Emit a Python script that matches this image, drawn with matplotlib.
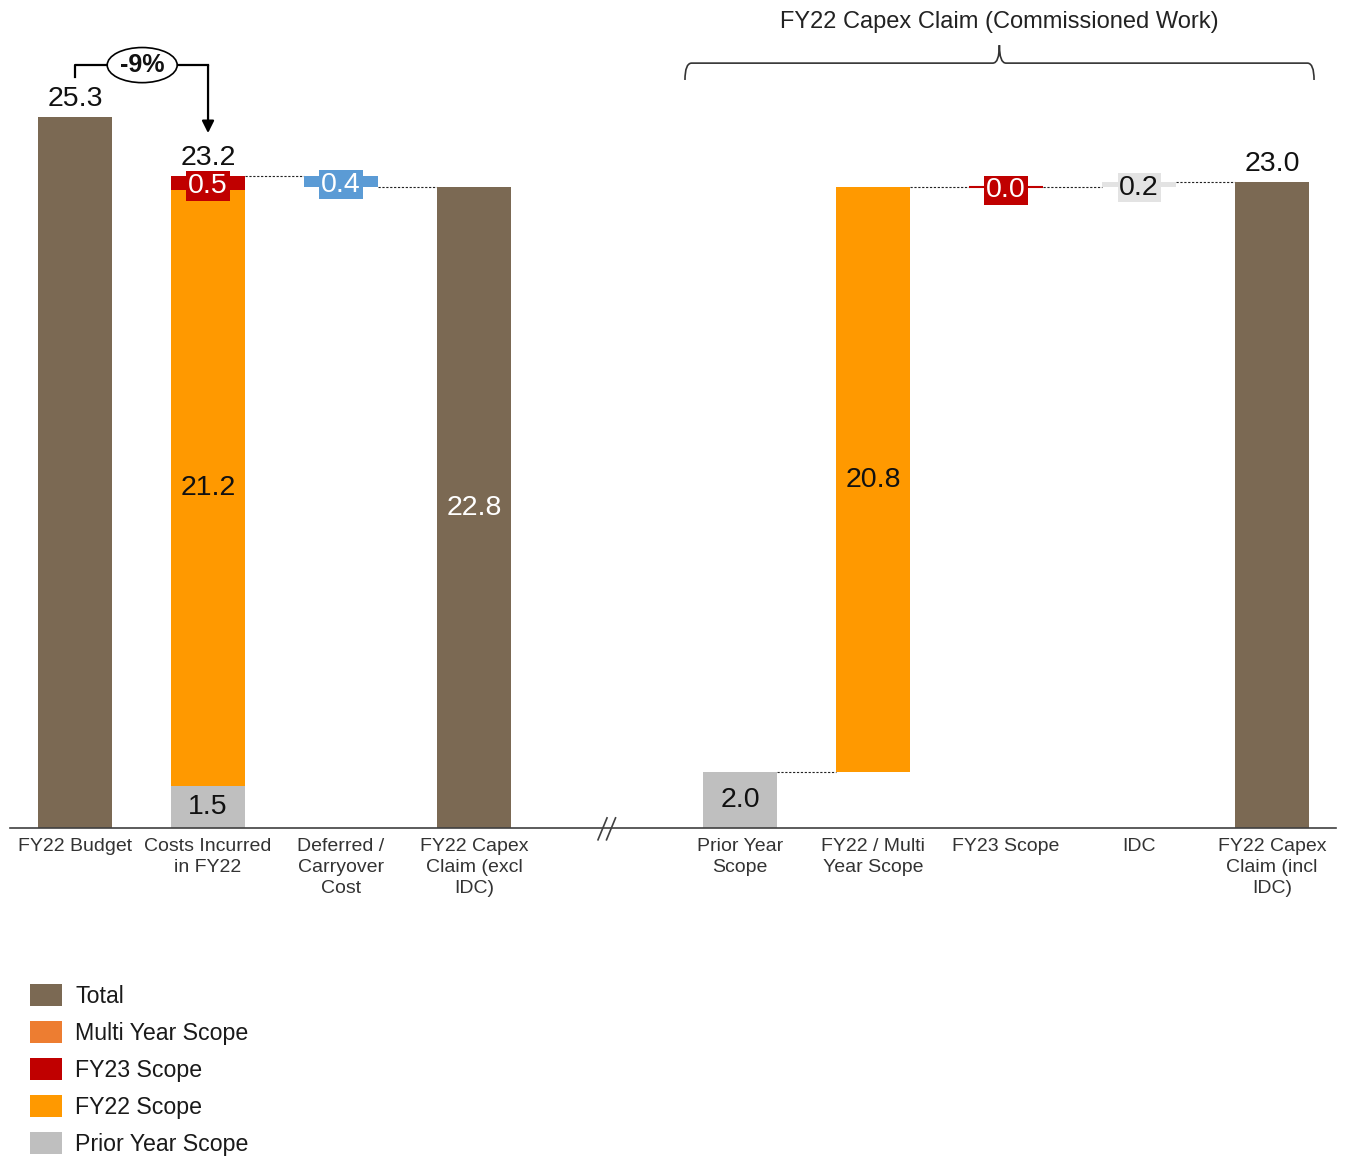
import matplotlib.pyplot as plt
from matplotlib.patches import Ellipse, Patch, PathPatch
from matplotlib.path import Path

plt.rcParams['font.family'] = ['Liberation Sans', 'DejaVu Sans']

# categories along the axis; slot 4 is left empty for the axis break
categories = ['FY22 Budget', 'Costs Incurred\nin FY22', 'Deferred /\nCarryover\nCost',
              'FY22 Capex\nClaim (excl\nIDC)', 'Prior Year\nScope', 'FY22 / Multi\nYear Scope',
              'FY23 Scope', 'IDC', 'FY22 Capex\nClaim (incl\nIDC)']
x_pos = [0, 1, 2, 3, 5, 6, 7, 8, 9]

# segment values per category (None = no segment in that bar)
prior_year_scope = [None, 1.5, None, None, 2.0, None, None, None, None]
fy22_scope = [None, 21.2, None, None, None, 20.8, None, None, None]
fy23_scope = [None, 0.5, None, None, None, None, 0.0, None, None]
deferred_cost = [None, None, -0.4, None, None, None, None, None, None]
idc_cost = [None, None, None, None, None, None, None, 0.2, None]
totals = [25.3, None, None, 22.8, None, None, None, None, 23.0]

# floating steps start at the previous bar's top
floating = [False, False, True, False, False, True, True, True, False]
# totals written above the bar instead of inside it
label_above = [True, True, False, False, False, False, False, False, True]

budget_change = '-9%'
group_title = 'FY22 Capex Claim (Commissioned Work)'

BROWN = '#7B6953'
ORANGE = '#FF9900'
RED = '#C00000'
GREY = '#BFBFBF'
BLUE = '#5B9BD5'
LIGHT = '#E3E3E3'
MULTI = '#ED7D31'
INK = '#111111'

# stacking order, bottom to top: (values, fill, label colour, is_total)
series = [
    (prior_year_scope, GREY, INK, False),
    (fy22_scope, ORANGE, INK, False),
    (fy23_scope, RED, 'white', False),
    (deferred_cost, BLUE, 'white', False),
    (idc_cost, LIGHT, INK, False),
    (totals, BROWN, 'white', True),
]

fig = plt.figure(figsize=(13.46, 11.57), dpi=100)
ax = fig.add_axes([10 / 1346, 329 / 1157, 1326 / 1346, 808 / 1157])
W = 0.56
VAL_FS = 20.5

level = 0
tops = []
for i, x in enumerate(x_pos):
    base = level if floating[i] else 0
    for vals, color, tcolor, is_total in series:
        v = vals[i]
        if v is None:
            continue
        ax.bar(x, v, W, bottom=base, color=color, edgecolor=color,
               linewidth=1.5 if v == 0 else 0, zorder=2)
        mid = base + v / 2
        if abs(v) < 1:
            ax.text(x, mid, f'{abs(v):.1f}', ha='center', va='center_baseline', fontsize=VAL_FS,
                    color=tcolor, zorder=4,
                    bbox=dict(boxstyle='square,pad=0.06', fc=color, ec='none'))
        elif not (is_total and label_above[i]):
            ax.text(x, mid, f'{v:.1f}', ha='center', va='center', fontsize=VAL_FS,
                    color=tcolor, zorder=4)
        base += v
    level = base
    tops.append(level)
    if label_above[i]:
        ax.annotate(f'{level:.1f}', (x, level), xytext=(0, 3.5), textcoords='offset points',
                    ha='center', va='bottom', fontsize=VAL_FS, color=INK)

# dashed connectors between waterfall steps
for i in range(len(x_pos) - 1):
    if x_pos[i + 1] - x_pos[i] == 1 and (floating[i] or floating[i + 1]):
        ax.plot([x_pos[i] + W / 2, x_pos[i + 1] - W / 2], [tops[i], tops[i]],
                color='#222222', lw=0.8, ls=(0, (2, 1.5)), zorder=1)

ax.set_xlim(-0.489, 9.481)
ax.set_ylim(0, 808 / 28.1)
for side in ['top', 'right', 'left']:
    ax.spines[side].set_visible(False)
ax.spines['bottom'].set_color('#404040')
ax.spines['bottom'].set_linewidth(1.2)
ax.set_yticks([])
ax.set_xticks(x_pos, categories, fontsize=14, color='#333333')
ax.tick_params(axis='x', length=0, pad=7)
for lbl in ax.get_xticklabels():
    lbl.set_linespacing(1.3)

# axis break marks
for cx in (3.966, 4.03):
    ax.plot([cx - 0.034, cx + 0.034], [-0.42, 0.36], color='#404040', lw=1.2,
            clip_on=False, zorder=5)

# budget vs costs incurred change
y_line = totals[0] + 1.85
ax.plot([0, 0, 1], [totals[0] + 1.43, y_line, y_line], color='black', lw=1.6,
        clip_on=False, zorder=5)
ax.annotate('', xy=(1, tops[1] + 1.53), xytext=(1, y_line),
            arrowprops=dict(arrowstyle='-|>', lw=1.6, color='black', mutation_scale=18,
                            shrinkA=0, shrinkB=0), annotation_clip=False)
ax.add_patch(Ellipse((0.505, y_line), 0.526, 1.25, fc='white', ec='black', lw=1.2,
                     zorder=6, clip_on=False))
ax.text(0.505, y_line, budget_change, ha='center', va='center', fontsize=18,
        fontweight='bold', color=INK, zorder=7)

# brace over the commissioned-work steps
x0, x1, xc = 4.586, 9.316, 6.95
y_end, y_br, y_peak = 26.62, 27.22, 27.86
d = 0.05
verts = [(x0, y_end), (x0, y_br), (x0 + d, y_br), (xc - d, y_br), (xc, y_br), (xc, y_peak),
         (xc, y_br), (xc + d, y_br), (x1 - d, y_br), (x1, y_br), (x1, y_end)]
codes = [Path.MOVETO, Path.CURVE3, Path.CURVE3, Path.LINETO, Path.CURVE3, Path.CURVE3,
         Path.CURVE3, Path.CURVE3, Path.LINETO, Path.CURVE3, Path.CURVE3]
ax.add_patch(PathPatch(Path(verts, codes), fc='none', ec='#333333', lw=1.2, clip_on=False))
ax.text(xc, 28.68, group_title, ha='center', va='center', fontsize=17, color='#222222',
        clip_on=False)

legend_items = [('Total', BROWN), ('Multi Year Scope', MULTI), ('FY23 Scope', RED),
                ('FY22 Scope', ORANGE), ('Prior Year Scope', GREY)]
handles = [Patch(fc=c, ec='none', label=l) for l, c in legend_items]
fig.legend(handles=handles, loc='upper left', bbox_to_anchor=(30 / 1346, 1 - 984 / 1157),
           frameon=False, fontsize=16.7, handlelength=1.4, handleheight=1.05,
           handletextpad=0.55, labelspacing=0.58, borderpad=0, borderaxespad=0,
           labelcolor='#1a1a1a')

fig.savefig('out.png', dpi=100)
